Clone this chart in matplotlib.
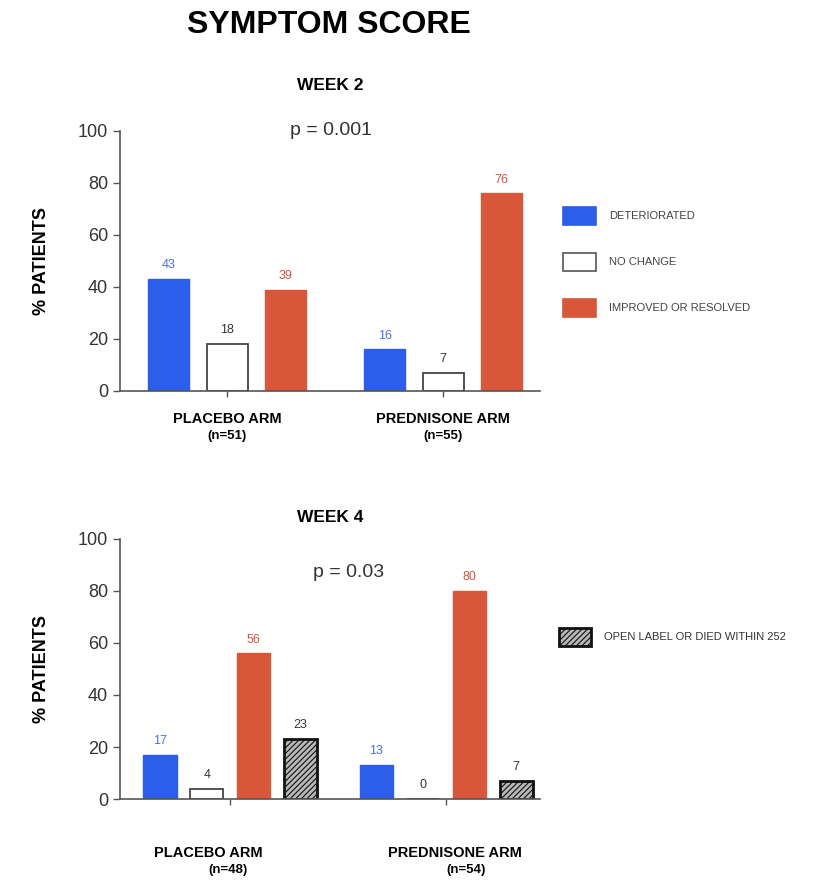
import matplotlib
matplotlib.use("Agg")
import matplotlib.pyplot as plt
from matplotlib.patches import Rectangle
import matplotlib as mpl

mpl.rcParams['hatch.linewidth'] = 0.8
mpl.rcParams['font.family'] = ['Liberation Sans', 'DejaVu Sans']

# ---- data ----
groups = ["PLACEBO ARM", "PREDNISONE ARM"]
week2_n = ["(n=51)", "(n=55)"]
week4_n = ["(n=48)", "(n=54)"]
week2_deteriorated = [43, 16]
week2_nochange = [18, 7]
week2_improved = [39, 76]
week4_deteriorated = [17, 13]
week4_nochange = [4, 0]
week4_improved = [56, 80]
week4_openlabel = [23, 7]
yticks = [0, 20, 40, 60, 80, 100]

BLUE = "#2b5fe9"
ORANGE = "#d8573a"
BLUE_TXT = "#4a6fe0"
RED_TXT = "#d0533f"
GREY = "#555555"

fig = plt.figure(figsize=(8.29, 8.82), dpi=100)

def style_axes(ax, xlim):
    ax.set_ylim(0, 100)
    ax.set_xlim(*xlim)
    ax.set_yticks(yticks)
    ax.set_yticklabels([str(t) for t in yticks], fontsize=13, color="#333333")
    ax.spines['top'].set_visible(False)
    ax.spines['right'].set_visible(False)
    for s in ['left', 'bottom']:
        ax.spines[s].set_color(GREY)
        ax.spines[s].set_linewidth(1.2)
    ax.tick_params(axis='y', colors=GREY, length=5, width=1.0, labelcolor="#333333")
    ax.set_xticks([0, 1])
    ax.set_xticklabels(["", ""])
    ax.tick_params(axis='x', colors=GREY, length=4, width=1.0)
    ax.set_ylabel("% PATIENTS", fontsize=13, fontweight='bold', labelpad=20)

def label(ax, x, v, color, dy=3):
    ax.text(x, v + dy, str(v), ha='center', va='bottom', fontsize=9, color=color)

# ---- top: week 2 ----
ax1 = fig.add_axes([0.1448, 0.5567, 0.507, 0.2948])
style_axes(ax1, (-0.495, 1.449))
x = [0, 1]
w = 0.19
off = 0.27
for i in range(2):
    ax1.bar(x[i] - off, week2_deteriorated[i], w, color=BLUE, edgecolor=BLUE)
    ax1.bar(x[i], week2_nochange[i], w, color="white", edgecolor="#444444", linewidth=1.3)
    ax1.bar(x[i] + off, week2_improved[i], w, color=ORANGE, edgecolor=ORANGE)
    label(ax1, x[i] - off, week2_deteriorated[i], BLUE_TXT)
    label(ax1, x[i], week2_nochange[i], "#333333")
    label(ax1, x[i] + off, week2_improved[i], RED_TXT)
ax1.text(0.48, 100, "p = 0.001", ha='center', va='center', fontsize=14, color="#333333")
for i in range(2):
    ax1.text(x[i], -8, groups[i], ha='center', va='top', fontsize=10.5, fontweight='bold')
    ax1.text(x[i], -15, week2_n[i], ha='center', va='top', fontsize=9.5, fontweight='bold')

# ---- bottom: week 4 ----
ax2 = fig.add_axes([0.1448, 0.0941, 0.507, 0.2948])
style_axes(ax2, (-0.509, 1.435))
w2 = 0.153
off2 = 0.216
for i in range(2):
    xs = [x[i] - 1.5 * off2, x[i] - 0.5 * off2, x[i] + 0.5 * off2, x[i] + 1.5 * off2]
    ax2.bar(xs[0], week4_deteriorated[i], w2, color=BLUE, edgecolor=BLUE)
    ax2.bar(xs[1], week4_nochange[i], w2, color="white", edgecolor="#444444", linewidth=1.3)
    ax2.bar(xs[2], week4_improved[i], w2, color=ORANGE, edgecolor=ORANGE)
    ax2.bar(xs[3], week4_openlabel[i], w2, color="#b8b8b8", edgecolor="#111111",
            linewidth=2.0, hatch="//////")
    label(ax2, xs[0], week4_deteriorated[i], BLUE_TXT)
    label(ax2, xs[1], week4_nochange[i], "#333333")
    label(ax2, xs[2], week4_improved[i], RED_TXT)
    label(ax2, xs[3], week4_openlabel[i], "#333333")
ax2.text(0.546, 87, "p = 0.03", ha='center', va='center', fontsize=14, color="#333333")
grp_x4 = [-0.10, 1.04]
n_x4 = [-0.01, 1.09]
for i in range(2):
    ax2.text(grp_x4[i], -18, groups[i], ha='center', va='top', fontsize=10.5, fontweight='bold')
    ax2.text(n_x4[i], -25, week4_n[i], ha='center', va='top', fontsize=9.5, fontweight='bold')

# ---- titles ----
fig.text(329 / 829, 1 - 25 / 882, "SYMPTOM SCORE", ha='center', va='center', fontsize=23, fontweight='bold')
fig.text(330 / 829, 1 - 85 / 882, "WEEK 2", ha='center', va='center', fontsize=12.5, fontweight='bold')
fig.text(330 / 829, 1 - 518 / 882, "WEEK 4", ha='center', va='center', fontsize=12.5, fontweight='bold')

# ---- legends ----
W, H = 829, 882
def legend_item(y_px, text, fc, ec, hatch=None, lw=1.2, h=18):
    r = Rectangle((563 / W, 1 - (y_px + h / 2) / H), 33 / W, h / H, transform=fig.transFigure,
                  facecolor=fc, edgecolor=ec, hatch=hatch, linewidth=lw)
    fig.add_artist(r)
    fig.text(609 / W, 1 - y_px / H, text, ha='left', va='center', fontsize=8, color="#444444")

legend_item(216, "DETERIORATED", BLUE, BLUE)
legend_item(262, "NO CHANGE", "white", "#555555")
legend_item(308, "IMPROVED OR RESOLVED", ORANGE, ORANGE)
r = Rectangle((559 / W, 1 - (637 + 9) / H), 32 / W, 18 / H, transform=fig.transFigure,
              facecolor="#b8b8b8", edgecolor="#111111", hatch="//////", linewidth=2.0)
fig.add_artist(r)
fig.text(604 / W, 1 - 637 / H, "OPEN LABEL OR DIED WITHIN 252", ha='left', va='center',
         fontsize=8, color="#333333")

fig.savefig("out.png", dpi=100)
